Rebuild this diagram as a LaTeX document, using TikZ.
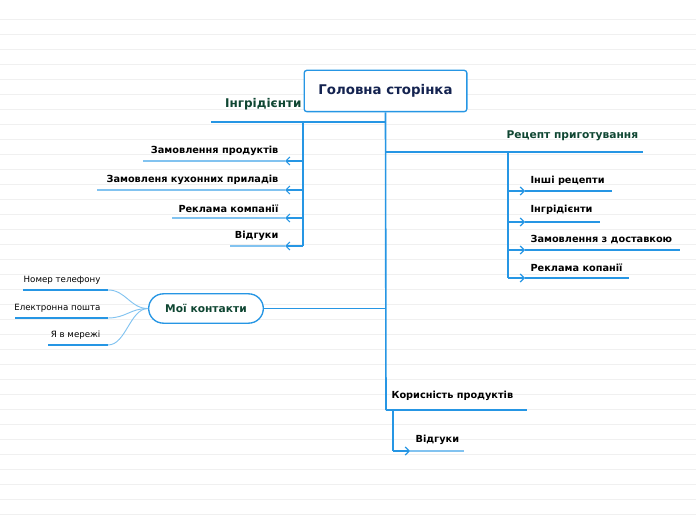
\documentclass[tikz,border=0pt]{standalone}
\usepackage{fontspec}
\setmainfont{DejaVu Sans}
\usetikzlibrary{arrows.meta}
\definecolor{mapblue}{RGB}{38,150,228}
\definecolor{leafblue}{RGB}{130,195,240}
\definecolor{titlenavy}{RGB}{20,35,80}
\definecolor{topicgreen}{RGB}{15,70,50}
\tikzset{
  branch/.style={draw=mapblue, line width=1.2pt},
  leaf/.style={draw=leafblue, line width=1pt},
  tip/.style={draw=mapblue, line width=0.9pt, -{Straight Barb[length=3pt,width=6pt]}},
  topic/.style={font=\bfseries\fontsize{9}{10}\selectfont, text=topicgreen, inner sep=1pt},
  item/.style={font=\bfseries\fontsize{7.3}{9}\selectfont, inner sep=1pt},
  small/.style={font=\fontsize{6.5}{8}\selectfont, inner sep=1pt}
}
\begin{document}
\begin{tikzpicture}[x=0.75pt,y=-0.75pt]
  \useasboundingbox (0,0) rectangle (696,520);
  % background lines
  \foreach \y in {19,34,...,514}
    \draw[black!6, line width=0.6pt] (0,\y) -- (696,\y);
  % Place nodes
  \node[draw=mapblue, line width=1pt, rounded corners=2pt, fill=white, minimum width=122pt, minimum height=31pt,
        font=\bfseries\fontsize{10}{12}\selectfont, text=titlenavy] (root) at (385.5,91) {Головна сторінка};
  \node[topic, anchor=south east] (ingr) at (303,112) {Інгрідієнти};
  \node[item, anchor=south east] (i1) at (280,157) {Замовлення продуктів};
  \node[item, anchor=south east] (i2) at (280,186) {Замовленя кухонних приладів};
  \node[item, anchor=south east] (i3) at (280,214) {Реклама компанії};
  \node[item, anchor=south east] (i4) at (280,242) {Відгуки};
  \node[topic, font=\bfseries\fontsize{8}{10}\selectfont, anchor=south west] (rec) at (505,142) {Рецепт приготування};
  \node[item, anchor=south west] (r1) at (529,187) {Інші рецепти};
  \node[item, anchor=south west] (r2) at (529,216) {Інгрідієнти};
  \node[item, anchor=south west] (r3) at (529,245) {Замовлення з доставкою};
  \node[item, anchor=south west] (r4) at (529,273) {Реклама копанії};
  \node[draw=mapblue, line width=1pt, rounded corners=11pt, fill=white, minimum width=86pt, minimum height=22pt,
        font=\bfseries\fontsize{8}{10}\selectfont, text=topicgreen] (cont) at (206,308.5) {Мої контакти};
  \node[small, anchor=south east] (c1) at (102,286) {Номер телефону};
  \node[small, anchor=south east] (c2) at (102,314) {Електронна пошта};
  \node[small, anchor=south east] (c3) at (102,341) {Я в мережі};
  \node[item, anchor=south west] (use) at (390,402) {Корисність продуктів};
  \node[item, anchor=south west] (u1) at (414,446) {Відгуки};
  % trunk
  \draw[branch] (root.south) -- (386,410);
  % Інгрідієнти
  \draw[branch] (386,122) -- (211,122);
  \draw[branch] (303,122) -- (303,246);
  \foreach \n/\y/\x in {i1/161/143, i2/190/97, i3/218/172, i4/246/230} {
    \draw[leaf] (285,\y) -- (\x,\y);
    \draw[tip] (303,\y) -- (285,\y);
  }
  % Рецепт
  \draw[branch] (386,152) -- (643,152);
  \draw[branch] (508,152) -- (508,278);
  \foreach \n/\y/\x in {r1/191/612, r2/222/600, r3/250/680, r4/278/629} {
    \draw[leaf, draw=mapblue] (525,\y) -- (\x,\y);
    \draw[tip] (508,\y) -- (525,\y);
  }
  % Мої контакти
  \draw[branch] (cont.east) -- (386,308.5);
  \foreach \y/\x in {290/23, 318/15, 345/48} {
    \draw[leaf, line width=0.7pt] (cont.west) .. controls (130,308.5) and (126,\y) .. (108,\y);
    \draw[branch, line width=1.3pt] (108,\y) -- (\x,\y);
  }
  % Корисність
  \draw[branch] (386,410) -- (527,410);
  \draw[branch] (393,410) -- (393,451);
  \draw[tip] (393,451) -- (410,451);
  \draw[leaf] (410,451) -- (464,451);
\end{tikzpicture}
\end{document}
